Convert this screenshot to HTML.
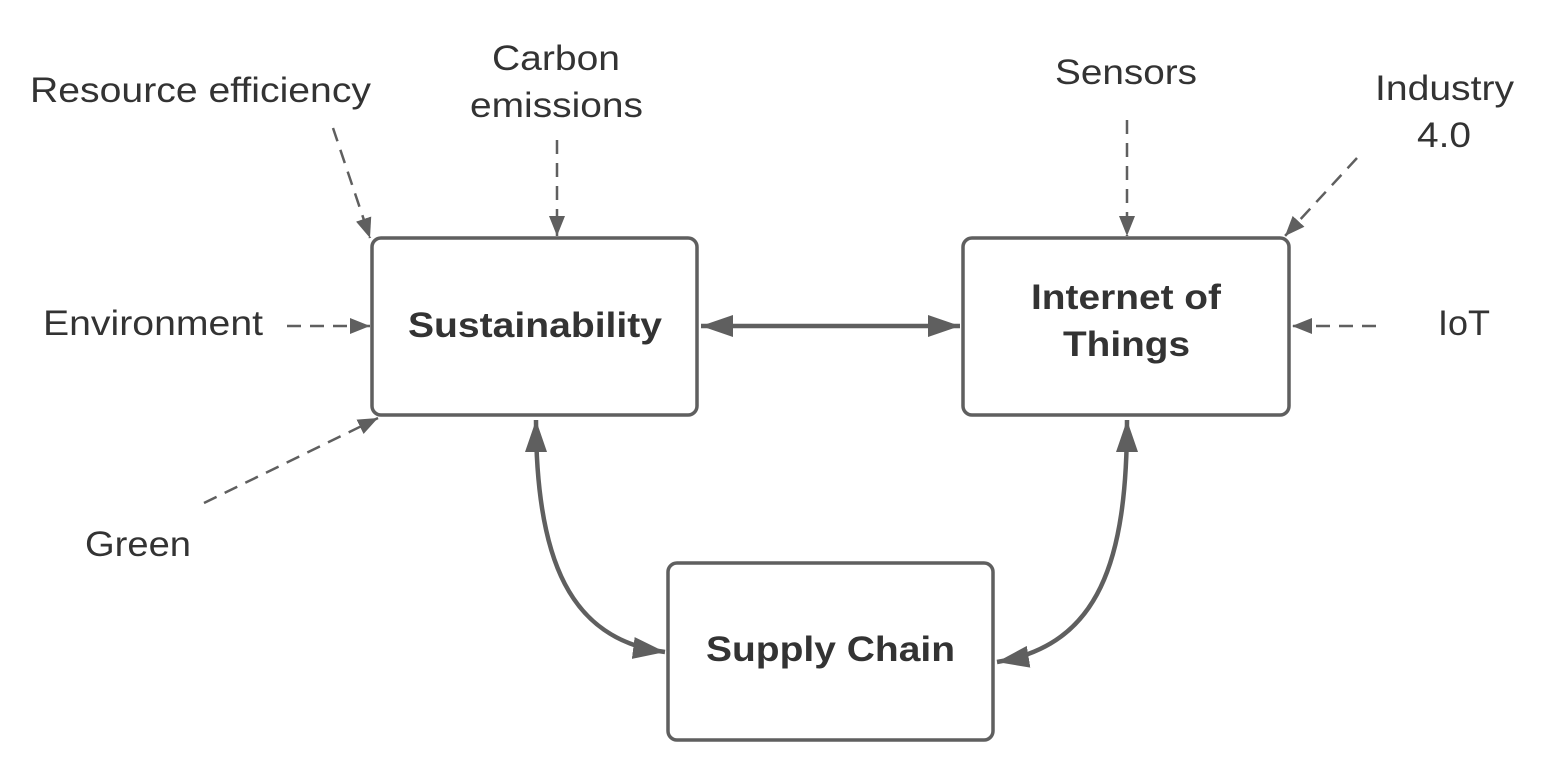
<!DOCTYPE html>
<html><head><style>
body{margin:0;background:#fff}
svg{display:block}
text{font-family:"Liberation Sans",Arial,sans-serif;fill:#333}
.l{font-size:35px}
.b{font-size:35px;font-weight:bold}
</style></head><body>
<svg width="1558" height="773" viewBox="0 0 1558 773">
<defs>
<marker id="a" viewBox="0 0 10 10" refX="10" refY="5" markerWidth="32" markerHeight="22" markerUnits="userSpaceOnUse" orient="auto-start-reverse" preserveAspectRatio="none"><path d="M0,0L10,5L0,10z" fill="#5f5f5f"/></marker>
<marker id="s" viewBox="0 0 10 10" refX="10" refY="5" markerWidth="20" markerHeight="16" markerUnits="userSpaceOnUse" orient="auto" preserveAspectRatio="none"><path d="M0,0L10,5L0,10z" fill="#5f5f5f"/></marker>
</defs>
<g fill="#fff" stroke="#5f5f5f" stroke-width="3.5">
<rect x="372" y="238" width="325" height="177" rx="9"/>
<rect x="963" y="238" width="326" height="177" rx="9"/>
<rect x="668" y="563" width="325" height="177" rx="9"/>
</g>
<g fill="none" stroke="#5f5f5f" stroke-width="4.5">
<path d="M701,326H960" marker-start="url(#a)" marker-end="url(#a)"/>
<path d="M536,420C536,560 570,640 665,652" marker-start="url(#a)" marker-end="url(#a)"/>
<path d="M1127,420C1127,560 1100,645 997,662" marker-start="url(#a)" marker-end="url(#a)"/>
</g>
<g fill="none" stroke="#5f5f5f" stroke-width="2.5" stroke-dasharray="14,9">
<path d="M333,128L370,238" marker-end="url(#s)"/>
<path d="M557,140V236" marker-end="url(#s)"/>
<path d="M287,326H370" marker-end="url(#s)"/>
<path d="M204,503L378,418" marker-end="url(#s)"/>
<path d="M1127,120V236" marker-end="url(#s)"/>
<path d="M1357,158L1285,236" marker-end="url(#s)"/>
<path d="M1376,326H1292" marker-end="url(#s)"/>
</g>
<g lengthAdjust="spacingAndGlyphs">
<text class="b" x="408" y="337" textLength="254" lengthAdjust="spacingAndGlyphs">Sustainability</text>
<text class="b" x="1031" y="309" textLength="190" lengthAdjust="spacingAndGlyphs">Internet of</text>
<text class="b" x="1063" y="356" textLength="127" lengthAdjust="spacingAndGlyphs">Things</text>
<text class="b" x="706" y="661" textLength="249" lengthAdjust="spacingAndGlyphs">Supply Chain</text>
<text class="l" x="30" y="102" textLength="341" lengthAdjust="spacingAndGlyphs">Resource efficiency</text>
<text class="l" x="492" y="70" textLength="128" lengthAdjust="spacingAndGlyphs">Carbon</text>
<text class="l" x="470" y="117" textLength="173" lengthAdjust="spacingAndGlyphs">emissions</text>
<text class="l" x="43" y="335" textLength="220" lengthAdjust="spacingAndGlyphs">Environment</text>
<text class="l" x="85" y="556" textLength="106" lengthAdjust="spacingAndGlyphs">Green</text>
<text class="l" x="1055" y="84" textLength="142" lengthAdjust="spacingAndGlyphs">Sensors</text>
<text class="l" x="1375" y="100" textLength="139" lengthAdjust="spacingAndGlyphs">Industry</text>
<text class="l" x="1417" y="147" textLength="54" lengthAdjust="spacingAndGlyphs">4.0</text>
<text class="l" x="1438" y="335" textLength="52" lengthAdjust="spacingAndGlyphs">IoT</text>
</g>
</svg>
</body></html>
